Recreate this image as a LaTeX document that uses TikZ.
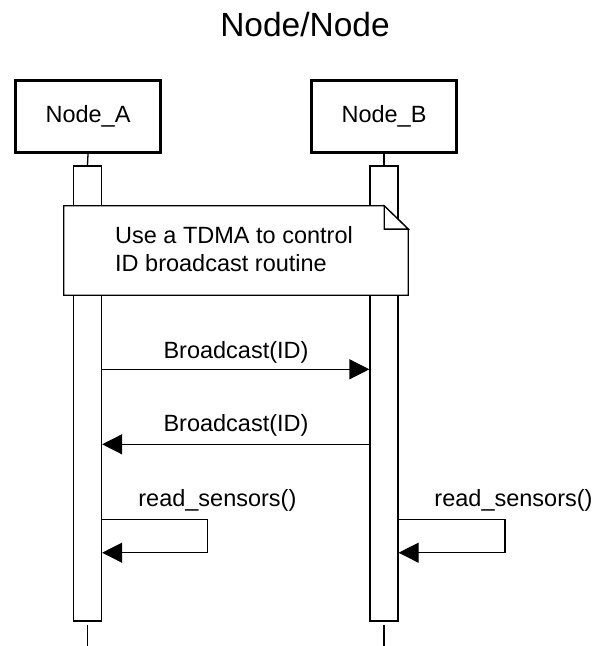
\documentclass[tikz,border=0pt]{standalone}
\usepackage{fontspec}
\setmainfont{Liberation Sans}
\usetikzlibrary{arrows.meta}

\tikzset{
  lbl/.style={font=\fontsize{23.5}{27.7}\selectfont, text=black, inner sep=0pt},
  head/.style={draw=black, line width=3pt, fill=white, minimum width=145pt, minimum height=72pt,
               font=\fontsize{23.5}{27.7}\selectfont, inner sep=0pt},
  bar/.style={draw=black, line width=1.3pt, fill=white, minimum width=28pt, minimum height=455pt, inner sep=0pt},
  life/.style={draw=black, line width=1.3pt},
  msg/.style={draw=black, line width=1.3pt, -{Triangle[length=20pt,width=20pt]}},
}

\begin{document}
\begin{tikzpicture}[x=1pt, y=-1pt]
  \useasboundingbox (0,0) rectangle (597,646);

  % title
  \node[lbl, font=\fontsize{33.5}{40}\selectfont, anchor=base] (title) at (305,36) {Node/Node};

  % participants
  \node[head] (boxA) at (88,116.5) {Node\_A};
  \node[head] (boxB) at (384,116.5) {Node\_B};

  % activation bars
  \node[bar] (barA) at (87.5,393.5) {};
  \node[bar] (barB) at (384,393.5) {};

  % lifeline pieces
  \draw[life] (boxA.south) -- (barA.north);
  \draw[life] (boxB.south) -- (barB.north);
  \coordinate (endA) at (87.5,646);
  \coordinate (endB) at (384,646);
  \draw[life] ([yshift=-3pt]barA.south) -- (endA);
  \draw[life] ([yshift=-3pt]barB.south) -- (endB);

  % note with folded corner
  \node[minimum width=344pt, minimum height=89pt, inner sep=0pt] (note) at (236,250.5) {};
  \draw[life, fill=white, line join=miter]
    (note.north west) -- ([xshift=-24pt]note.north east) -- ([yshift=-23.3pt]note.north east)
    -- (note.south east) -- (note.south west) -- cycle;
  \draw[life, fill=white, line join=miter]
    ([xshift=-24pt]note.north east) -- ([xshift=-24pt,yshift=-23.3pt]note.north east)
    -- ([yshift=-23.3pt]note.north east) -- cycle;
  \node[lbl, anchor=base west] (noteL1) at (115,243.3) {Use a TDMA to control};
  \node[lbl, anchor=base west] (noteL2) at (115,271) {ID broadcast routine};

  % messages
  \draw[msg] (barA.east |- 0,369.3) -- (barB.west |- 0,369.3);
  \node[lbl, anchor=base] (m1) at (236,358) {Broadcast(ID)};

  \draw[msg] (barB.west |- 0,444.3) -- (barA.east |- 0,444.3);
  \node[lbl, anchor=base] (m2) at (236,431.7) {Broadcast(ID)};

  % self calls
  \draw[msg, line join=miter] (barA.east |- 0,519.3) -- (207.3,519.3) |- (barA.east |- 0,552.7);
  \node[lbl, anchor=base] (s1) at (217.4,506.7) {read\_sensors()};

  \draw[msg, line join=miter] (barB.east |- 0,519.3) -- (505,519.3) |- (barB.east |- 0,552.7);
  \node[lbl, anchor=base] (s2) at (513.5,506.7) {read\_sensors()};
\end{tikzpicture}
\end{document}
